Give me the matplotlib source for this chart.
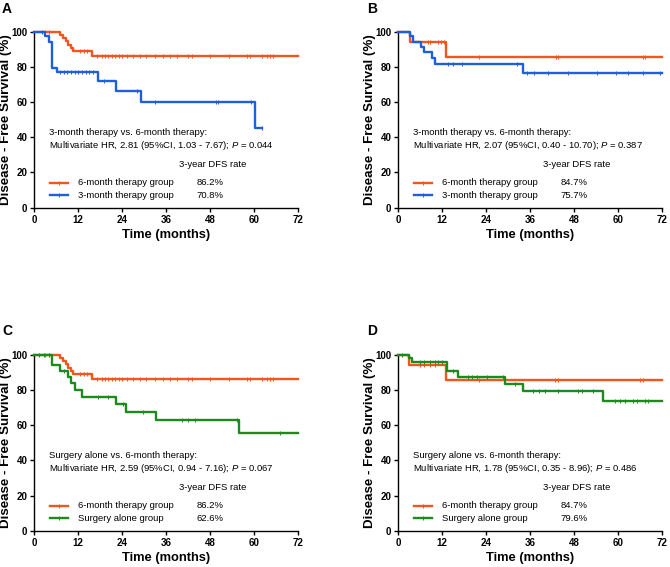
import numpy as np
import matplotlib
matplotlib.use("Agg")
import matplotlib.pyplot as plt

plt.rcParams['font.family'] = ['Liberation Sans', 'DejaVu Sans']
plt.rcParams['mathtext.fontset'] = 'custom'
plt.rcParams['mathtext.rm'] = 'Liberation Sans'
plt.rcParams['mathtext.it'] = 'Liberation Sans:italic'

ORANGE = '#F0561E'
BLUE = '#1F5FDC'
GREEN = '#1E8A1E'

# ---- panel A / C: 6-month therapy group (86.2%)
six_t = [0, 7.0, 7.9, 8.6, 9.3, 9.9, 10.6, 15.8, 72]
six_s = [100, 98.2, 96.3, 94.5, 92.7, 90.8, 89.0, 86.3, 86.3]
six_cens_t = [3, 4, 12.5, 13.5, 14.5, 17, 18.4, 19.3, 20.2, 21.1, 22, 23, 23.9, 25.2, 27,
              28.8, 30.6, 32.9, 35.2, 37, 38.8, 42, 42.9, 48, 53, 58, 58.8, 62, 63.4, 64.3, 65.2]

# panel A: 3-month therapy group
threeA_t = [0, 2.9, 4.0, 4.9, 6.1, 17.3, 22.2, 29.0, 60.2, 62]
threeA_s = [100, 97.5, 94.0, 79.5, 77.1, 72.2, 66.5, 60.1, 45.1, 45.1]
threeA_cens_t = [2, 7, 8, 9, 10, 11, 12, 13, 14, 15, 16, 19, 28, 33, 49.5, 50, 59, 62]

# panel B: 6-month therapy group (84.7%)
sixB_t = [0, 3.2, 13.0, 72]
sixB_s = [100, 94.3, 85.7, 85.7]
sixB_cens_t = [8, 8.7, 10.7, 11.6, 12.4, 22.1, 43, 43.6, 66.8, 67.3]

# panel B: 3-month therapy group
threeB_t = [0, 3.2, 3.9, 6.2, 7.0, 9.1, 10.0, 34.1, 72]
threeB_s = [100, 97.5, 94.3, 91.5, 88.3, 84.8, 81.4, 76.7, 76.7]
threeB_cens_t = [13.6, 15, 17.3, 32.3, 35, 37, 40.9, 46.4, 54.1, 59.5, 62.7, 66.8, 71.4]

# panel C: surgery alone group
surgC_t = [0, 4.9, 7.0, 9.1, 10.0, 11.1, 13.1, 22.2, 24.9, 33.1, 55.9, 72]
surgC_s = [100, 94.4, 90.9, 87.5, 84.1, 80.0, 76.2, 72.0, 67.5, 62.9, 55.8, 55.8]
surgC_cens_t = [1.3, 2.7, 4.1, 8, 17.5, 20.2, 24.3, 29.7, 40.2, 42, 43.8, 55.2, 67]

# panel D: 6-month therapy group (84.7%)
sixD_t = [0, 3.0, 12.9, 72]
sixD_s = [100, 94.1, 85.6, 85.6]
sixD_cens_t = [5.9, 7.1, 8.6, 10, 22, 42.7, 43.5, 65.9, 66.8]

# panel D: surgery alone group
surgD_t = [0, 2.9, 3.6, 13.2, 16.2, 29.1, 34.1, 55.9, 72]
surgD_s = [100, 98.1, 96.0, 90.7, 87.1, 83.6, 79.6, 73.7, 73.7]
surgD_cens_t = [1, 5.9, 7.1, 8.6, 10, 10.9, 11.8, 15, 19.1, 20, 21.4, 24.1, 28.6, 31.8,
                36.8, 38.4, 40, 43.6, 49.1, 50, 53.2, 59.1, 60.5, 61.8, 64.1, 65, 67.3, 68.2]


def level_at(t, s, x):
    i = np.searchsorted(t, x, side='right') - 1
    return s[max(i, 0)]


def km(ax, t, s, cens, color):
    ax.step(t, s, where='post', color=color, lw=1.7, clip_on=False, zorder=3)
    cy = [level_at(t, s, c) for c in cens]
    ax.plot(cens, cy, '|', color=color, ms=3, mew=0.7, clip_on=False, zorder=3)


def panel(ax, curves, comp, hr, rows):
    for t, s, c, col in curves:
        km(ax, t, s, c, col)
    ax.set_xlim(0, 72)
    ax.set_ylim(0, 100)
    ax.set_xticks(range(0, 73, 12))
    ax.set_yticks(range(0, 101, 20))
    for sp in ['top', 'right']:
        ax.spines[sp].set_visible(False)
    for sp in ['left', 'bottom']:
        ax.spines[sp].set_linewidth(1.0)
    ax.tick_params(direction='out', length=3, width=1.0, labelsize=7, pad=2)
    for lab in ax.get_xticklabels() + ax.get_yticklabels():
        lab.set_fontweight('bold')
    ax.set_xlabel('Time (months)', fontsize=9.3, fontweight='bold', labelpad=3)
    ax.set_ylabel('Disease - Free Survival (%)', fontsize=9.6, fontweight='bold')
    ax.yaxis.set_label_coords(-0.085, 0.5)
    ax.text(4, 42.6, comp, fontsize=6.8, va='center')
    ax.text(4, 35.2, hr, fontsize=6.8, va='center')
    ax.text(39.5, 24.6, '3-year DFS rate', fontsize=6.8, va='center')
    for y, (name, val, col) in zip([14.2, 7.2], rows):
        ax.plot([4.3, 9.3], [y, y], color=col, lw=1.7)
        ax.plot([6.8], [y], '|', color=col, ms=3, mew=0.7)
        ax.text(12, y, name, fontsize=6.8, va='center')
        ax.text(44.2, y, val, fontsize=6.8, va='center')


fig = plt.figure(figsize=(6.7, 5.67), dpi=100)
w, h = 0.394, 0.3104
axA = fig.add_axes([0.0512, 0.6337, w, h])
axB = fig.add_axes([0.5945, 0.6337, w, h])
axC = fig.add_axes([0.0512, 0.064, w, h])
axD = fig.add_axes([0.5945, 0.064, w, h])

hrA = 'Multivariate HR, 2.81 (95%CI, 1.03 - 7.67); $\\mathit{P}$ = 0.044'
hrB = 'Multivariate HR, 2.07 (95%CI, 0.40 - 10.70); $\\mathit{P}$ = 0.387'
hrC = 'Multivariate HR, 2.59 (95%CI, 0.94 - 7.16); $\\mathit{P}$ = 0.067'
hrD = 'Multivariate HR, 1.78 (95%CI, 0.35 - 8.96); $\\mathit{P}$ = 0.486'

panel(axA, [(six_t, six_s, six_cens_t, ORANGE), (threeA_t, threeA_s, threeA_cens_t, BLUE)],
      '3-month therapy vs. 6-month therapy:', hrA,
      [('6-month therapy group', '86.2%', ORANGE), ('3-month therapy group', '70.8%', BLUE)])
panel(axB, [(sixB_t, sixB_s, sixB_cens_t, ORANGE), (threeB_t, threeB_s, threeB_cens_t, BLUE)],
      '3-month therapy vs. 6-month therapy:', hrB,
      [('6-month therapy group', '84.7%', ORANGE), ('3-month therapy group', '75.7%', BLUE)])
panel(axC, [(six_t, six_s, six_cens_t, ORANGE), (surgC_t, surgC_s, surgC_cens_t, GREEN)],
      'Surgery alone vs. 6-month therapy:', hrC,
      [('6-month therapy group', '86.2%', ORANGE), ('Surgery alone group', '62.6%', GREEN)])
panel(axD, [(sixD_t, sixD_s, sixD_cens_t, ORANGE), (surgD_t, surgD_s, surgD_cens_t, GREEN)],
      'Surgery alone vs. 6-month therapy:', hrD,
      [('6-month therapy group', '84.7%', ORANGE), ('Surgery alone group', '79.6%', GREEN)])

for letter, px, py in [('A', 2, 9), ('B', 367, 9), ('C', 2, 331), ('D', 367, 331)]:
    fig.text(px / 670, 1 - py / 567, letter, fontsize=10, fontweight='bold',
             ha='left', va='center')

fig.savefig('out.png', dpi=100)
